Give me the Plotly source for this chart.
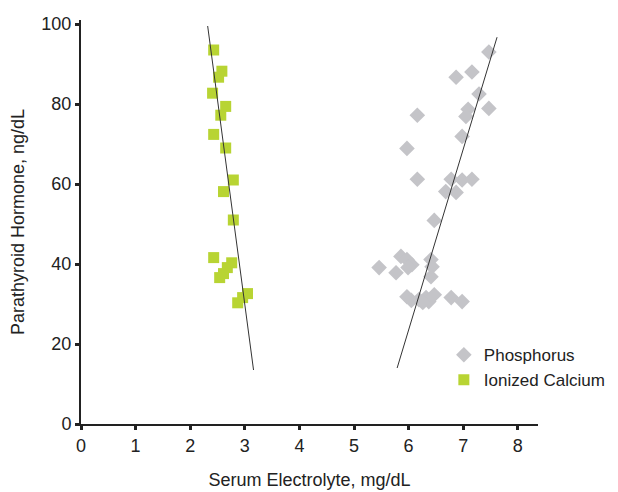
import plotly.graph_objects as go

# Ionized calcium (mg/dL) vs PTH (ng/dL)
calcium_x = [2.43, 2.58, 2.52, 2.41, 2.65, 2.56, 2.43, 2.65, 2.79, 2.61, 2.79,
             2.43, 2.76, 2.68, 2.61, 2.54, 3.05, 2.96, 2.87]
calcium_y = [93.5, 88.2, 86.7, 82.7, 79.4, 77.2, 72.4, 69.0, 61.0, 58.1, 51.0,
             41.6, 40.3, 39.1, 37.6, 36.6, 32.6, 31.6, 30.3]

# Phosphorus (mg/dL) vs PTH (ng/dL)
phos_x = [7.47, 6.87, 7.16, 7.29, 7.09, 7.47, 7.05, 6.16, 6.98, 5.97,
          6.16, 6.78, 6.98, 7.16, 6.68, 6.87, 6.47,
          5.46, 5.77, 5.86, 5.97, 6.06, 5.99, 6.41, 6.43, 6.41,
          5.97, 6.19, 6.32, 6.47, 6.37, 6.78, 6.98, 6.26, 6.05]
phos_y = [93.0, 86.7, 88.0, 82.5, 78.7, 78.9, 76.9, 77.2, 71.9, 68.9,
          61.2, 61.2, 61.0, 61.2, 58.1, 57.9, 50.9,
          39.1, 37.8, 41.9, 41.1, 39.8, 39.1, 41.1, 39.3, 36.8,
          31.8, 31.1, 31.6, 32.3, 30.6, 31.6, 30.6, 30.4, 30.9]

# Trend lines (end points)
calcium_trend_x = [2.32, 3.16]
calcium_trend_y = [99.5, 13.5]
phos_trend_x = [7.62, 5.79]
phos_trend_y = [96.7, 14.0]

x_ticks = [0, 1, 2, 3, 4, 5, 6, 7, 8]
y_ticks = [0, 20, 40, 60, 80, 100]

fig = go.Figure()

fig.add_trace(go.Scatter(
    x=phos_x, y=phos_y, mode="markers", name="Phosphorus",
    marker=dict(symbol="diamond", size=12, color="#c4c4c8"),
))
fig.add_trace(go.Scatter(
    x=calcium_x, y=calcium_y, mode="markers", name="Ionized Calcium",
    marker=dict(symbol="square", size=11, color="#b8d433"),
))
fig.add_trace(go.Scatter(
    x=calcium_trend_x, y=calcium_trend_y, mode="lines", showlegend=False,
    line=dict(color="#333333", width=1), hoverinfo="skip",
))
fig.add_trace(go.Scatter(
    x=phos_trend_x, y=phos_trend_y, mode="lines", showlegend=False,
    line=dict(color="#333333", width=1), hoverinfo="skip",
))

font_family = "Liberation Sans, Arial, sans-serif"

fig.update_layout(
    width=610, height=484,
    margin=dict(l=73, r=80, t=12, b=68, autoexpand=False),
    paper_bgcolor="white", plot_bgcolor="white",
    font=dict(family=font_family, color="#222222", size=18),
    showlegend=True,
    legend=dict(x=0.794, y=0.215, xanchor="left", yanchor="top",
                font=dict(size=17, color="#222222"),
                itemwidth=30,
                bgcolor="rgba(0,0,0,0)", tracegroupgap=4),
    xaxis=dict(
        range=[0, 8.37], tickvals=x_ticks, ticktext=[str(v) for v in x_ticks],
        showgrid=False, zeroline=False, automargin=False,
        showline=True, linecolor="#222222", linewidth=2,
        ticks="outside", ticklen=4, tickwidth=3, tickcolor="#222222",
        tickfont=dict(size=18),
        title=dict(text="Serum Electrolyte, mg/dL", font=dict(size=18), standoff=19),
    ),
    yaxis=dict(
        range=[0, 101], tickvals=y_ticks, ticktext=[str(v) for v in y_ticks],
        showgrid=False, zeroline=False, automargin=False,
        showline=True, linecolor="#222222", linewidth=2,
        ticks="outside", ticklen=4, tickwidth=3, tickcolor="#222222",
        tickfont=dict(size=18),
        title=dict(text="Parathyroid Hormone, ng/dL", font=dict(size=18), standoff=15),
    ),
)

fig.write_html("out.html")
